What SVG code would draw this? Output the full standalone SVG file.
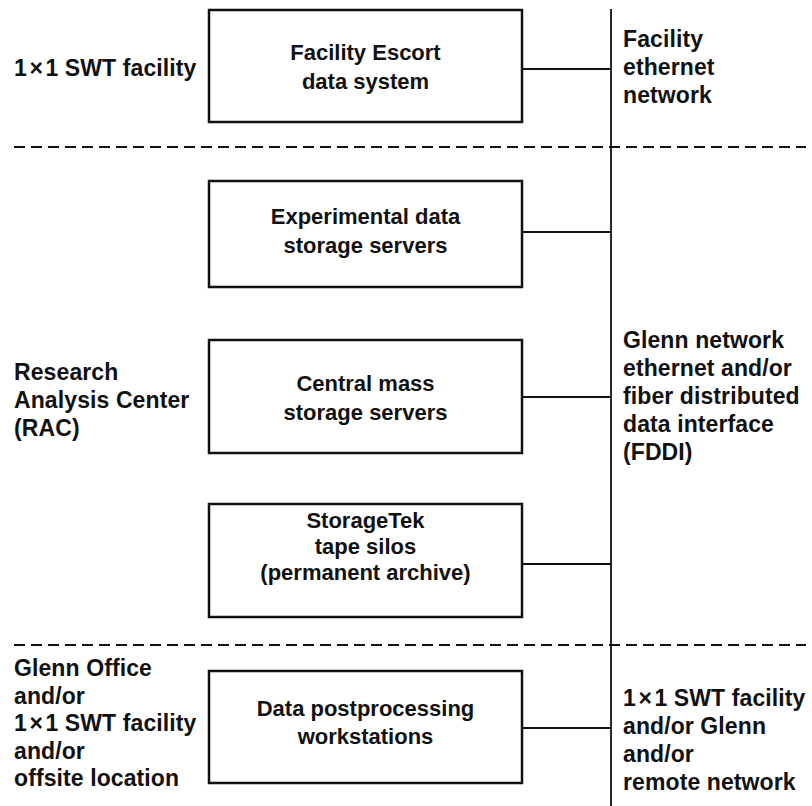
<svg xmlns="http://www.w3.org/2000/svg" width="812" height="806" viewBox="0 0 812 806">
<style>
  text { font-family: "Liberation Sans", Arial, sans-serif; font-size: 22px; font-weight: bold; fill: #111; }
  .c { text-anchor: middle; }
  .o { font-size: 23px; letter-spacing: 0.1px; }
  .box { fill: #fff; stroke: #111; stroke-width: 2.5; }
  .ln { stroke: #111; stroke-width: 1.8; fill: none; }
  .dash { stroke: #111; stroke-width: 2; stroke-dasharray: 11 6; fill: none; }
</style>
<rect width="812" height="806" fill="#fff"/>
<g id="dividers">
  <line class="dash" x1="14" y1="147" x2="806" y2="147"/>
  <line class="dash" x1="14" y1="645" x2="806" y2="645"/>
</g>
<g id="connectors">
  <line class="ln" x1="611" y1="9" x2="611" y2="806"/>
  <line class="ln" x1="522" y1="69" x2="611" y2="69"/>
  <line class="ln" x1="522" y1="232" x2="611" y2="232"/>
  <line class="ln" x1="522" y1="397" x2="611" y2="397"/>
  <line class="ln" x1="522" y1="564" x2="611" y2="564"/>
  <line class="ln" x1="522" y1="728" x2="611" y2="728"/>
</g>
<g id="escort">
  <rect class="box" x="209" y="10" width="313" height="112"/>
  <text class="c" x="365.5" y="60">Facility Escort</text>
  <text class="c" x="365.5" y="89">data system</text>
</g>
<g id="experimental">
  <rect class="box" x="209" y="181" width="313" height="106"/>
  <text class="c" x="365.5" y="224">Experimental data</text>
  <text class="c" x="365.5" y="253">storage servers</text>
</g>
<g id="central">
  <rect class="box" x="209" y="340" width="313" height="113"/>
  <text class="c" x="365.5" y="391">Central mass</text>
  <text class="c" x="365.5" y="420">storage servers</text>
</g>
<g id="storagetek">
  <rect class="box" x="209" y="504" width="313" height="113"/>
  <text class="c" x="365.5" y="528">StorageTek</text>
  <text class="c" x="365.5" y="554">tape silos</text>
  <text class="c" x="365.5" y="580">(permanent archive)</text>
</g>
<g id="postprocessing">
  <rect class="box" x="209" y="671" width="313" height="112"/>
  <text class="c" x="365.5" y="716">Data postprocessing</text>
  <text class="c" x="365.5" y="744">workstations</text>
</g>
<g id="left-labels">
  <text class="o" x="14" y="76">1<tspan dx="2.5">×</tspan><tspan dx="2.5">1</tspan> SWT facility</text>
  <text class="o" x="14" y="380">Research</text>
  <text class="o" x="14" y="408">Analysis Center</text>
  <text class="o" x="14" y="436">(RAC)</text>
  <text class="o" x="14" y="676">Glenn Office</text>
  <text class="o" x="14" y="703.5">and/or</text>
  <text class="o" x="14" y="731">1<tspan dx="2.5">×</tspan><tspan dx="2.5">1</tspan> SWT facility</text>
  <text class="o" x="14" y="758.5">and/or</text>
  <text class="o" x="14" y="786">offsite location</text>
</g>
<g id="right-labels">
  <text class="o" x="623" y="47">Facility</text>
  <text class="o" x="623" y="75">ethernet</text>
  <text class="o" x="623" y="103">network</text>
  <text class="o" x="623" y="348">Glenn network</text>
  <text class="o" x="623" y="376">ethernet and/or</text>
  <text class="o" x="623" y="404">fiber distributed</text>
  <text class="o" x="623" y="432">data interface</text>
  <text class="o" x="623" y="460">(FDDI)</text>
  <text class="o" x="623" y="706">1<tspan dx="2.5">×</tspan><tspan dx="2.5">1</tspan> SWT facility</text>
  <text class="o" x="623" y="734">and/or Glenn</text>
  <text class="o" x="623" y="762">and/or</text>
  <text class="o" x="623" y="790">remote network</text>
</g>
</svg>
